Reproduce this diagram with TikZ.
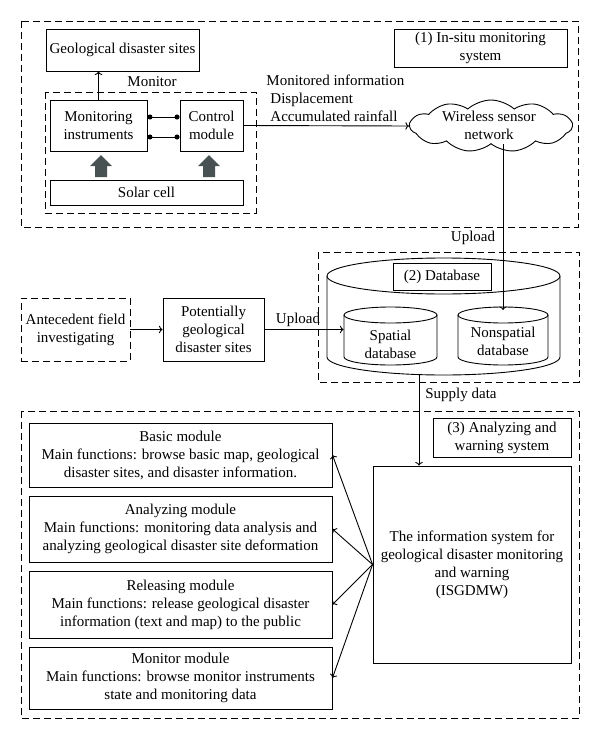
\documentclass[tikz,border=0pt]{standalone}
\usepackage{fontspec}
\setmainfont{Liberation Serif}
\usetikzlibrary{shapes.symbols,arrows.meta,positioning}

\definecolor{arrowgray}{RGB}{72,82,82}

\begin{document}
\begin{tikzpicture}[x=1pt,y=-1pt,line width=0.9pt,>=To,
  font=\fontsize{15}{18}\selectfont]
\tikzstyle{every node}+=[inner sep=0pt]
\tikzstyle{box}=[draw,rectangle,align=center]
\tikzstyle{dbox}=[draw,rectangle,align=center,dash pattern=on 7pt off 4pt]
\tikzstyle{dline}=[dash pattern=on 7pt off 4pt]
\tikzstyle{dots}=[{Circle[length=5pt]}-{Circle[length=5pt]}]
\useasboundingbox (0,0) rectangle (600,739);
% (1) in-situ monitoring system
\draw [dline] (21,21) rectangle (578,227);
\draw [dline] (45,92) rectangle (256,213);
\node [box,minimum width=153,minimum height=42] (geo) at (122.5,50) {Geological disaster sites};
\node [box,minimum width=97,minimum height=51] (instr) at (98.5,125.5) {Monitoring\\instruments};
\node [box,minimum width=63,minimum height=51] (ctrl) at (211.5,125.5) {Control\\module};
\node [box,minimum width=193,minimum height=25] (solar) at (146.5,192.5) {Solar cell};
\node [box,minimum width=173,minimum height=38] (insitu) at (480.5,48) {(1) In-situ monitoring\\system};
\node [draw,cloud,cloud puffs=11,cloud puff arc=85,cloud ignores aspect,minimum width=162,minimum height=52] (wsn) at (491,126) {};
\node [align=center] (wsntxt) at (489,125) {Wireless sensor\\network};
\node (mon) at (152,82) {Monitor};
\node [align=left,anchor=west] (info) at (266,98) {Monitored information\\\hspace*{4pt}Displacement\\\hspace*{4pt}Accumulated rainfall};
\draw [->] (instr.north) -- (instr.north |- geo.south);
\draw [dots] ([yshift=8.5pt]instr.east) -- ([yshift=8.5pt]ctrl.west);
\draw [dots] ([yshift=-11.5pt]instr.east) -- ([yshift=-11.5pt]ctrl.west);
\draw [->] (ctrl.east) -- (wsn.west);
\fill [arrowgray] (95,177) -- (95,166) -- (90,166) -- (101,155) -- (112,166) -- (107,166) -- (107,177) -- cycle;
\fill [arrowgray] (203,177) -- (203,166) -- (198,166) -- (209,155) -- (220,166) -- (215,166) -- (215,177) -- cycle;
% (2) database
\draw [dline] (318,252) rectangle (579,382);
\draw (327,276) -- (327,357) arc[start angle=180,end angle=0,x radius=116.5,y radius=18] -- (560,276);
\draw (443.5,276) ellipse[x radius=116.5,y radius=18];
\node [box,minimum width=98,minimum height=27] (dbtitle) at (442,277) {(2) Database};
\draw (344,315) -- (344,357) arc[start angle=180,end angle=0,x radius=46.5,y radius=8] -- (437,315);
\draw (390.5,315) ellipse[x radius=46.5,y radius=8];
\draw (458,315) -- (458,357) arc[start angle=180,end angle=0,x radius=45,y radius=8] -- (548,315);
\draw (503,315) ellipse[x radius=45,y radius=8];
\node [align=center,minimum width=93] (spatial) at (390.5,344) {Spatial\\database};
\node [align=center,minimum width=90] (nonsp) at (503,341) {Nonspatial\\database};
\coordinate (nstop) at (503,310);
\coordinate (dbbot) at (419,375);
\node (upl1) at (473,238) {Upload};
\draw [->] (wsn.south -| nstop) -- (nstop);
% field data
\node [dbox,minimum width=109,minimum height=63] (ante) at (75.5,329.5) {Antecedent field\\investigating};
\node [box,minimum width=101,minimum height=63] (pot) at (213.5,329.5) {Potentially\\geological\\disaster sites};
\draw [->] (ante.east) -- (pot.west);
\draw [->] (pot.east) -- (pot.east -| spatial.west);
\node (upl2) at (298,320) {Upload};
% (3) analyzing and warning system
\draw [dline] (21,411) rectangle (579,718);
\node [box,minimum width=138,minimum height=39] (aws) at (502,437.5) {(3) Analyzing and\\warning system};
\node [box,minimum width=198,minimum height=197] (isg) at (472,564.5) {The information system for\\geological disaster monitoring\\and warning\\(ISGDMW)};
\node (supply) at (461,395) {Supply data};
\draw [->] (dbbot) -- (dbbot |- isg.north);
\node [box,minimum width=303,minimum height=64] (basic) at (180.5,455) {Basic module\\Main functions: browse basic map, geological\\disaster sites, and disaster information.};
\node [box,minimum width=303,minimum height=66] (analyz) at (180.5,529) {Analyzing module\\Main functions: monitoring data analysis and\\analyzing geological disaster site deformation};
\node [box,minimum width=303,minimum height=67] (release) at (180.5,604.5) {Releasing module\\Main functions: release geological disaster\\information (text and map) to the public};
\node [box,minimum width=303,minimum height=62] (monmod) at (180.5,678) {Monitor module\\Main functions: browse monitor instruments\\state and monitoring data};
\draw [->] (isg.west) -- (basic.east);
\draw [->] (isg.west) -- (analyz.east);
\draw [->] (isg.west) -- (release.east);
\draw [->] (isg.west) -- (monmod.east);
\end{tikzpicture}
\end{document}
